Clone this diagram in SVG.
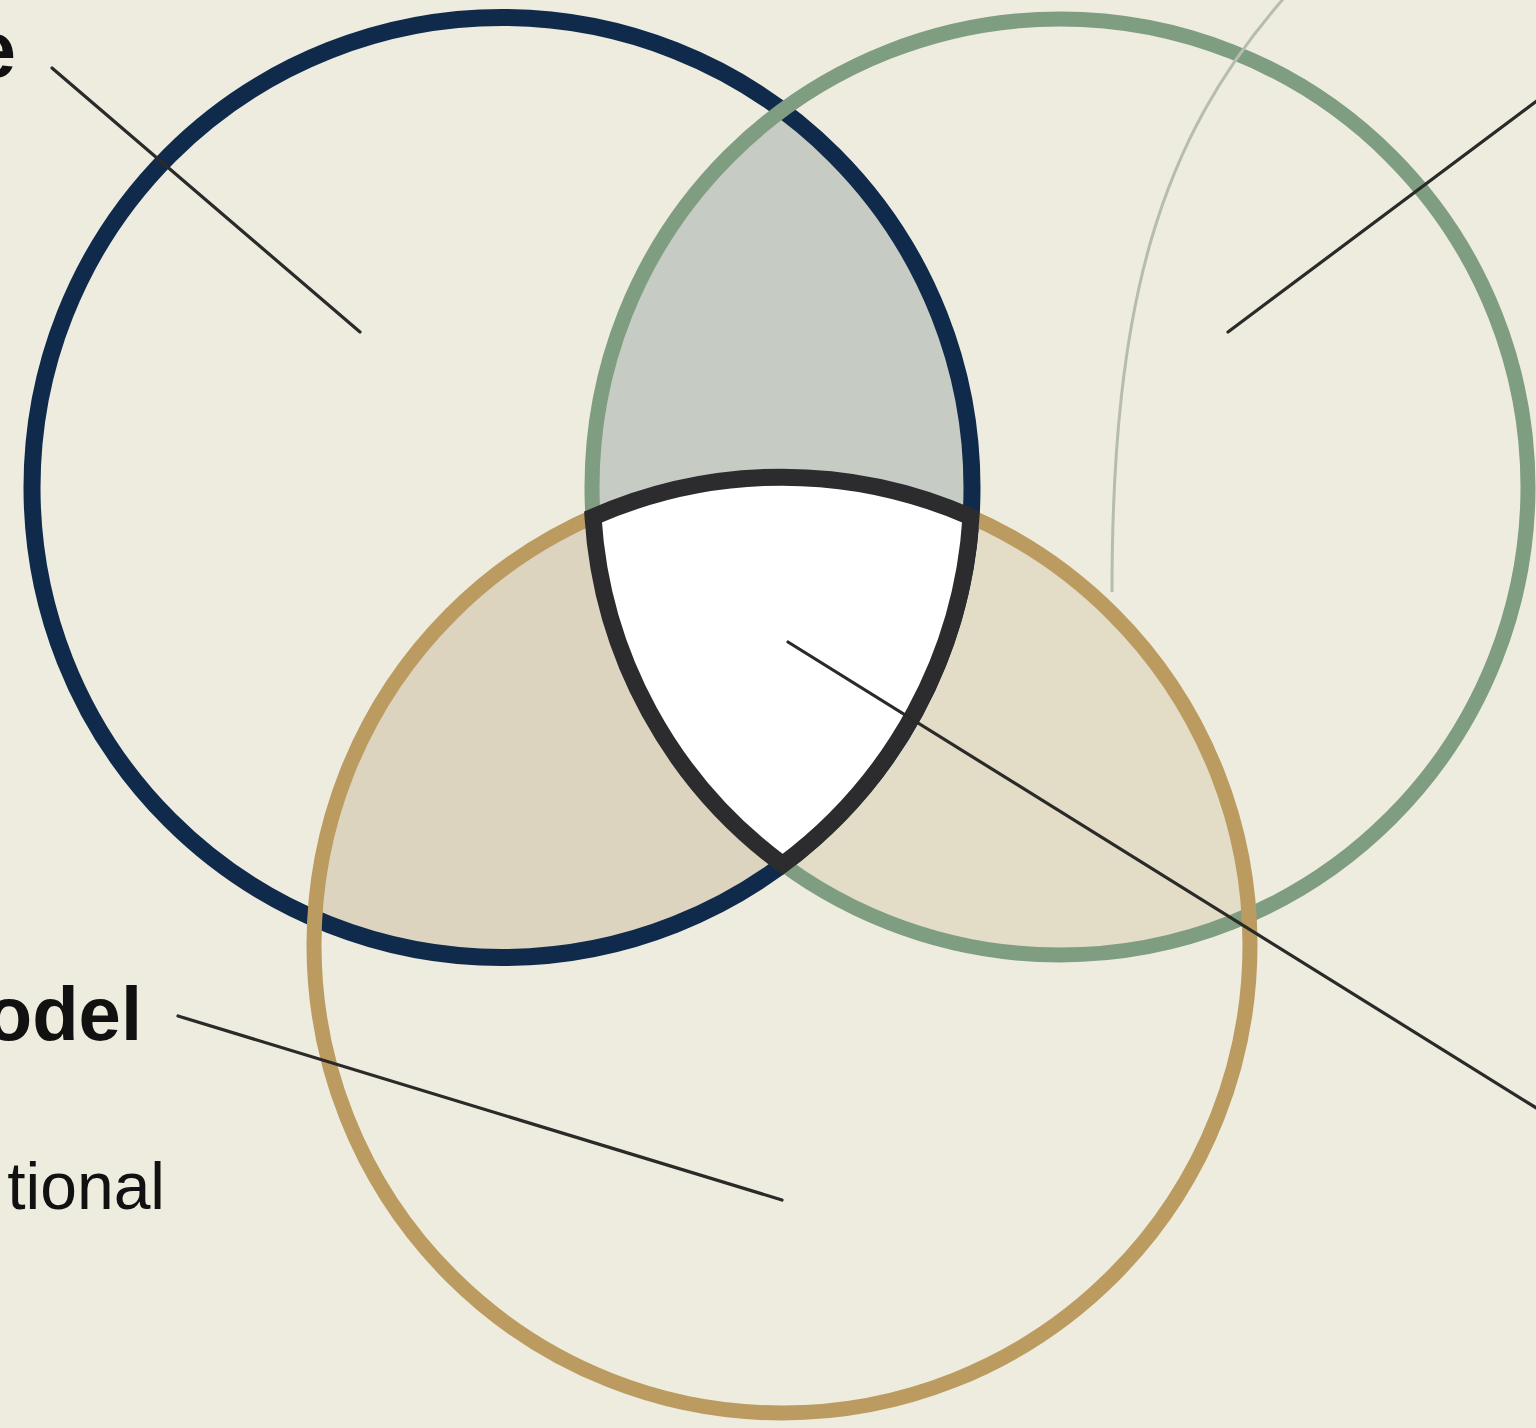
<svg xmlns="http://www.w3.org/2000/svg" width="1536" height="1428" viewBox="0 0 1536 1428">
  <defs>
    <style>
      .ring { fill: none; }
      .navy { stroke: #0f2a4b; stroke-width: 17; }
      .green { stroke: #7f9d80; stroke-width: 15; }
      .gold { stroke: #bb9b60; stroke-width: 15; }
      .leader { stroke: #2a2a28; stroke-width: 3.2; stroke-linecap: round; fill: none; }
      .lbl-b { font-family: "Liberation Sans", Arial, sans-serif; font-weight: bold; fill: #111111; }
      .lbl-r { font-family: "Liberation Sans", Arial, sans-serif; fill: #111111; }
    </style>
    <clipPath id="clipNavy"><circle cx="502" cy="487.5" r="470"/></clipPath>
    <clipPath id="clipGreen"><circle cx="1060" cy="487" r="468"/></clipPath>
  </defs>

  <rect x="0" y="0" width="1536" height="1428" fill="#edecdf"/>

  <g id="overlaps">
    <circle cx="1060" cy="487" r="468" fill="#c6cbc4" clip-path="url(#clipNavy)"/>
    <circle cx="782" cy="945" r="468" fill="#dcd4bf" clip-path="url(#clipNavy)"/>
    <circle cx="782" cy="945" r="468" fill="#e3dcc6" clip-path="url(#clipGreen)"/>
  </g>

  <g id="circle-navy">
    <circle class="ring navy" cx="502" cy="487.5" r="470"/>
  </g>
  <g id="circle-green">
    <circle class="ring green" cx="1060" cy="487" r="468"/>
  </g>
  <g id="faint-arc">
    <path d="M 1284 -2 C 1160 140 1112 300 1112 592" fill="none" stroke="#b6bdb0" stroke-width="3"/>
  </g>
  <g id="circle-gold">
    <circle class="ring gold" cx="782" cy="945" r="468"/>
  </g>

  <g id="region-center">
    <path d="M 593 517 A 468 468 0 0 1 971 517 A 470 470 0 0 1 782.7 864.5 A 468 468 0 0 1 593 517 Z" fill="#ffffff" stroke="#2c2c2e" stroke-width="17" stroke-linejoin="miter" stroke-miterlimit="10"/>
  </g>

  <g id="connectors">
    <line class="leader" x1="52" y1="68" x2="360" y2="332"/>
    <line class="leader" x1="1538" y1="100" x2="1228" y2="332"/>
    <line class="leader" x1="178" y1="1016" x2="782" y2="1200"/>
    <line class="leader" x1="788" y1="642" x2="1538" y2="1109"/>
  </g>

  <g id="labels">
    <text class="lbl-b" x="16" y="77" font-size="80" text-anchor="end">e</text>
    <text class="lbl-b" x="142" y="1040" font-size="76" text-anchor="end">odel</text>
    <text class="lbl-r" x="165" y="1209" font-size="66" text-anchor="end">tional</text>
  </g>
</svg>
